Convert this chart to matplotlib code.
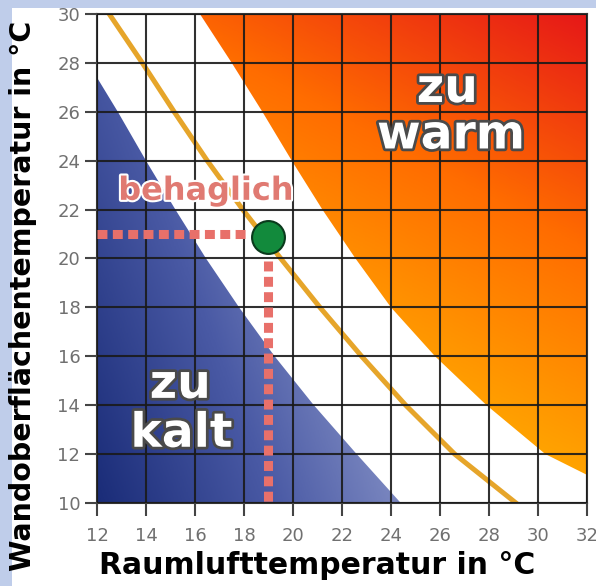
import numpy as np
import matplotlib
matplotlib.use("Agg")
import matplotlib.pyplot as plt
import matplotlib.patheffects as pe
from matplotlib.colors import LinearSegmentedColormap
from matplotlib.patches import Polygon, Rectangle

# Axis ranges / ticks
x_ticks = list(range(12, 33, 2))
y_ticks = list(range(10, 31, 2))

# Boundary of "zu kalt" region (air temp, wall temp)
cold_x = [12.0, 12.85, 14.0, 15.2, 16.45, 17.8, 19.25, 20.85, 22.6, 24.4]
cold_y = [27.4, 26.0, 24.0, 22.0, 20.0, 18.0, 16.0, 14.0, 12.0, 10.0]

# Boundary of "zu warm" region
warm_x = [16.2, 17.5, 18.75, 19.95, 21.2, 22.55, 24.0, 25.8, 27.9, 30.3, 32.0]
warm_y = [30.0, 28.0, 26.0, 24.0, 22.0, 20.0, 18.0, 16.0, 14.0, 12.0, 11.15]

# Optimal comfort curve (yellow)
opt_x = [12.5, 13.85, 15.15, 16.5, 17.95, 19.5, 21.1, 22.8, 24.6, 26.6, 29.1]
opt_y = [30.0, 28.0, 26.0, 24.0, 22.0, 20.0, 18.0, 16.0, 14.0, 12.0, 10.0]

# Example point
pt_air = 19.0
pt_wall = 21.0

fig = plt.figure(figsize=(5.96, 5.86), dpi=100)
fig.patch.set_facecolor("#bfcdea")
fig.patches.append(Rectangle((12 / 596, 0), 1, 1 - 8 / 586, transform=fig.transFigure,
                             facecolor="white", edgecolor="none", zorder=-1))

ax = fig.add_axes([97 / 596, 1 - 503 / 586, 490 / 596, 489 / 586])
ax.set_xlim(12, 32)
ax.set_ylim(10, 30)

# gradient fills, clipped to region polygons
gx, gy = np.meshgrid(np.linspace(12, 32, 400), np.linspace(10, 30, 400))

blue_cmap = LinearSegmentedColormap.from_list("cold", ["#1a2c78", "#4a5aa5", "#8f9acb"])
s_cold = 0.85 * (gx - 12) / 12.4 + 0.45 * (gy - 10) / 17.4
im_c = ax.imshow(s_cold, extent=[12, 32, 10, 30], origin="lower", cmap=blue_cmap,
                 vmin=0, vmax=1.0, aspect="auto", zorder=0)
cold_poly = Polygon([(12, 10)] + list(zip(cold_x, cold_y)), closed=True,
                    transform=ax.transData)
im_c.set_clip_path(cold_poly)

warm_cmap = LinearSegmentedColormap.from_list(
    "warm", [(0.0, "#ffa400"), (0.5, "#ff6c00"), (1.0, "#e61818")])
s_warm = 0.35 * (gx - 12) / 20 + 0.65 * (gy - 10) / 20
im_w = ax.imshow(s_warm, extent=[12, 32, 10, 30], origin="lower", cmap=warm_cmap,
                 vmin=0.38, vmax=1.0, aspect="auto", zorder=0)
warm_poly = Polygon(list(zip(warm_x, warm_y)) + [(32, 30)], closed=True,
                    transform=ax.transData)
im_w.set_clip_path(warm_poly)

# yellow optimum curve
ax.plot(opt_x, opt_y, color="#e6a52a", lw=3.6, zorder=1, solid_joinstyle="round")

# grid
ax.set_xticks(x_ticks)
ax.set_yticks(y_ticks)
ax.set_axisbelow(False)
ax.grid(True, color="#1a1a1a", lw=1.5, alpha=0.9)
for sp in ax.spines.values():
    sp.set_color("#333333")
    sp.set_linewidth(1.5)
ax.tick_params(length=9, width=1.5, color="#444444", labelsize=13,
               labelcolor="#707070")
ax.tick_params(axis="x", pad=8)
ax.tick_params(axis="y", pad=3)

# dotted guide lines to the example point
ax.plot([12, 18.2], [pt_wall, pt_wall], color="#e8706a", lw=6.5,
        linestyle=(0, (1.1, 0.6)), solid_capstyle="butt", zorder=3)
ax.plot([pt_air, pt_air], [19.9, 10], color="#e8706a", lw=6.5,
        linestyle=(0, (1.1, 0.6)), solid_capstyle="butt", zorder=3)
ax.scatter([pt_air], [pt_wall - 0.12], s=560, color="#128a3c", edgecolor="#0a3a1c",
           linewidth=1.5, zorder=4)

# region labels
white_outline = [pe.withStroke(linewidth=4, foreground="#4a4a4a")]
ax.text(26.3, 26.4, "zu", fontsize=34, fontweight="bold", color="white",
        ha="center", va="baseline", path_effects=white_outline, zorder=5)
ax.text(26.45, 24.5, "warm", fontsize=34, fontweight="bold", color="white",
        ha="center", va="baseline", path_effects=white_outline, zorder=5)
ax.text(15.4, 14.3, "zu", fontsize=34, fontweight="bold", color="white",
        ha="center", va="baseline", path_effects=white_outline, zorder=5)
ax.text(15.45, 12.3, "kalt", fontsize=34, fontweight="bold", color="white",
        ha="center", va="baseline", path_effects=white_outline, zorder=5)
ax.text(16.45, 22.4, "behaglich", fontsize=23, fontweight="bold", color="#e07a72",
        ha="center", va="baseline",
        path_effects=[pe.withStroke(linewidth=3, foreground="white")], zorder=5)

# axis titles
fig.text(317 / 596, 1 - 565 / 586, "Raumlufttemperatur in °C", fontsize=21.5,
         fontweight="bold", ha="center", va="center")
fig.text(23 / 596, 1 - 296 / 586, "Wandoberflächentemperatur in °C", fontsize=20.5,
         fontweight="bold", ha="center", va="center", rotation=90)

fig.savefig("out.png", dpi=100, facecolor=fig.get_facecolor())
